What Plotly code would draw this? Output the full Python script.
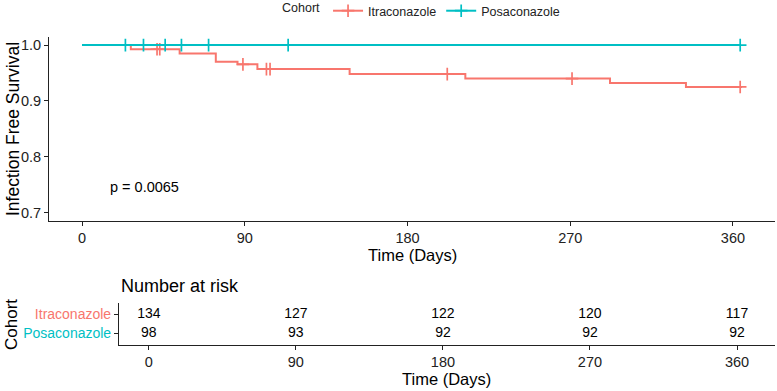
import plotly.graph_objects as go
import numpy as np

# ---------------- data ----------------
cohorts = ["Itraconazole", "Posaconazole"]
colors = {"Itraconazole": "#F8766D", "Posaconazole": "#00BFC4"}

itra_times = [0, 27, 54, 74, 86, 97, 148, 212, 292, 334, 365]
itra_surv = [1.0, 0.9925, 0.985, 0.970, 0.9655, 0.957, 0.948, 0.940, 0.932, 0.925, 0.925]
itra_censor = [41.5, 43, 89, 102, 104, 202, 271, 364]

posa_times = [0, 364]
posa_surv = [1.0, 1.0]
posa_censor = [24, 34, 46, 55, 70, 114, 364]

risk_times = [0, 90, 180, 270, 360]
itra_risk = [134, 127, 122, 120, 117]
posa_risk = [98, 93, 92, 92, 92]

x_ticks = [0, 90, 180, 270, 360]
y_ticks = [0.7, 0.8, 0.9, 1.0]
p_text = "p = 0.0065"

curves = {
    "Itraconazole": (itra_times, itra_surv, itra_censor),
    "Posaconazole": (posa_times, posa_surv, posa_censor),
}
risk = {"Itraconazole": itra_risk, "Posaconazole": posa_risk}


def step_value(times, surv, t):
    idx = np.searchsorted(np.array(times), t, side="right") - 1
    return surv[max(idx, 0)]


W, H = 777, 391
FONT = "Liberation Sans, Arial, sans-serif"

fig = go.Figure()

for name in cohorts:
    t, s, c = curves[name]
    col = colors[name]
    fig.add_trace(go.Scatter(
        x=t, y=s, mode="lines", line=dict(color=col, width=2, shape="hv"),
        showlegend=False, xaxis="x", yaxis="y", hoverinfo="skip"))
    fig.add_trace(go.Scatter(
        x=c, y=[step_value(t, s, v) for v in c], mode="markers",
        marker=dict(symbol="cross-thin", size=9, line=dict(color=col, width=1.7)),
        showlegend=False, xaxis="x", yaxis="y", hoverinfo="skip"))
    # legend entry
    fig.add_trace(go.Scatter(
        x=[None], y=[None], mode="lines+markers", name=name,
        line=dict(color=col, width=2),
        marker=dict(symbol="cross-thin", size=9, line=dict(color=col, width=1.7)),
        xaxis="x", yaxis="y"))

# risk table
for name in cohorts:
    fig.add_trace(go.Scatter(
        x=risk_times, y=[name] * len(risk_times), mode="text",
        text=[str(v) for v in risk[name]],
        textfont=dict(family=FONT, size=14, color="black"),
        textposition="middle center", showlegend=False,
        xaxis="x2", yaxis="y2", hoverinfo="skip"))

axis_common = dict(showline=True, linecolor="#222222", linewidth=1.1,
                   ticks="outside", ticklen=4, tickcolor="#222222", tickwidth=1.1,
                   showgrid=False, zeroline=False,
                   tickfont=dict(family=FONT, size=14.5, color="#222222"))

fig.update_layout(
    width=W, height=H,
    margin=dict(l=0, r=0, t=0, b=0, autoexpand=False),
    paper_bgcolor="white", plot_bgcolor="white",
    font=dict(family=FONT, color="black"),
    xaxis=dict(domain=[49 / W, 775 / W], range=[-18.25, 383.25],
               tickvals=x_ticks, anchor="y", **axis_common),
    yaxis=dict(domain=[(H - 221) / H, (H - 36.7) / H], range=[0.685, 1.015],
               tickvals=y_ticks, tickformat=".1f", anchor="x", **axis_common),
    xaxis2=dict(domain=[119 / W, 775 / W], range=[-18.25, 383.25],
                tickvals=x_ticks, anchor="y2", **axis_common),
    yaxis2=dict(domain=[(H - 345) / H, (H - 303) / H], range=[-0.6, 1.6],
                type="category", categoryarray=["Posaconazole", "Itraconazole"],
                tickvals=["Posaconazole", "Itraconazole"],
                ticktext=[f"<span style='color:{colors['Posaconazole']}'>Posaconazole</span>",
                          f"<span style='color:{colors['Itraconazole']}'>Itraconazole</span>"],
                anchor="x2", **{k: v for k, v in axis_common.items() if k != "tickfont"},
                tickfont=dict(family=FONT, size=14)),
    legend=dict(orientation="h", x=280 / W, xanchor="left", y=1.01, yanchor="top",
                title=dict(text="Cohort", side="left", font=dict(family=FONT, size=12.5)),
                font=dict(family=FONT, size=12.5, color="#222222"),
                bgcolor="rgba(0,0,0,0)", itemwidth=30, tracegroupgap=0),
    annotations=[
        dict(text=p_text, x=14.6, y=0.7455, xref="x", yref="y", xanchor="left",
             yanchor="middle", showarrow=False, font=dict(family=FONT, size=14.5, color="black")),
        dict(text="Infection Free Survival", x=13 / W, y=(H - 129) / H, xref="paper", yref="paper",
             textangle=-90, showarrow=False, xanchor="center", yanchor="middle",
             font=dict(family=FONT, size=17.5, color="black")),
        dict(text="Time (Days)", x=412 / W, y=(H - 254.5) / H, xref="paper", yref="paper",
             showarrow=False, xanchor="center", yanchor="middle",
             font=dict(family=FONT, size=16.5, color="black")),
        dict(text="Number at risk", x=119 / W, y=(H - 285.5) / H, xref="paper", yref="paper",
             showarrow=False, xanchor="left", yanchor="middle",
             font=dict(family=FONT, size=18, color="black")),
        dict(text="Cohort", x=11 / W, y=(H - 325) / H, xref="paper", yref="paper",
             textangle=-90, showarrow=False, xanchor="center", yanchor="middle",
             font=dict(family=FONT, size=17, color="black")),
        dict(text="Time (Days)", x=447 / W, y=(H - 378.5) / H, xref="paper", yref="paper",
             showarrow=False, xanchor="center", yanchor="middle",
             font=dict(family=FONT, size=16.5, color="black")),
    ],
)

fig.write_html("out.html")
